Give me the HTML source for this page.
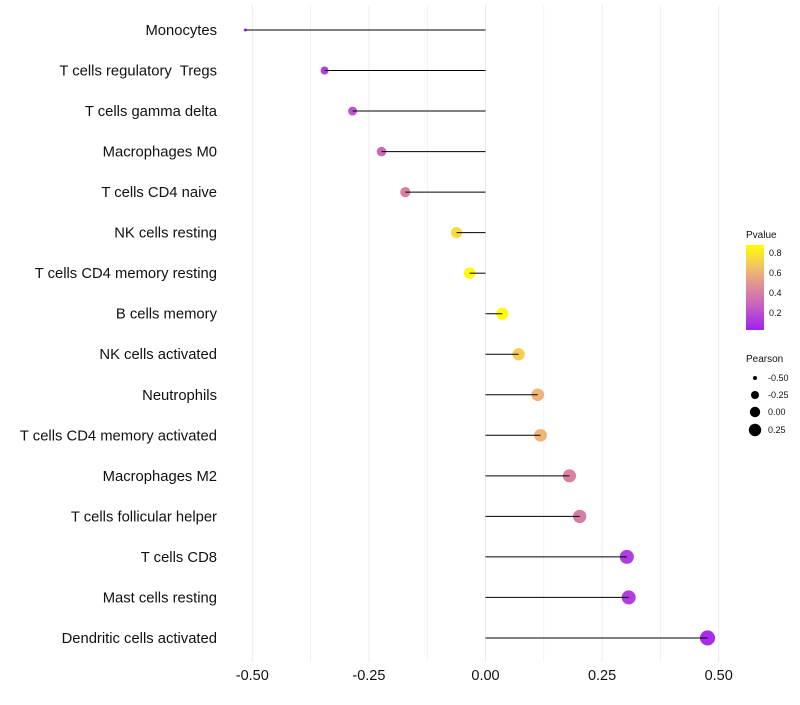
<!DOCTYPE html>
<html><head><meta charset="utf-8"><style>
body{margin:0;background:#fff;font-family:"Liberation Sans",sans-serif}
</style></head><body>
<svg id="chart" width="800" height="700" xmlns="http://www.w3.org/2000/svg"></svg>
<script>
const categories=["Monocytes","T cells regulatory\u00a0 Tregs","T cells gamma delta","Macrophages M0","T cells CD4 naive","NK cells resting","T cells CD4 memory resting","B cells memory","NK cells activated","Neutrophils","T cells CD4 memory activated","Macrophages M2","T cells follicular helper","T cells CD8","Mast cells resting","Dendritic cells activated"];
const pearson=[-0.515,-0.345,-0.285,-0.223,-0.172,-0.062,-0.034,0.036,0.071,0.112,0.118,0.180,0.202,0.303,0.307,0.476];
const pvalue=[0.05,0.12,0.2,0.3,0.4,0.75,0.88,0.88,0.7,0.6,0.6,0.4,0.38,0.12,0.12,0.05];
const xTicks=[-0.5,-0.25,0,0.25,0.5];
const xTickLabels=["-0.50","-0.25","0.00","0.25","0.50"];
const NS="http://www.w3.org/2000/svg";
const svg=document.getElementById('chart');
const x=v=>485.5+v*466.4;
const y=i=>30+i*40.53;
function mk(t,a,p){const e=document.createElementNS(NS,t);for(const k in a)e.setAttribute(k,a[k]);(p||svg).appendChild(e);return e;}
const cstops=[[0,[160,32,240]],[0.2,[190,80,210]],[0.4,[215,130,160]],[0.6,[240,180,120]],[0.9,[255,255,0]]];
function col(p){const t=Math.max(0,Math.min(0.9,p));
 for(let i=0;i<cstops.length-1;i++){const [t0,a]=cstops[i],[t1,b]=cstops[i+1];
  if(t<=t1){const f=(t-t0)/(t1-t0);return `rgb(${a.map((c,k)=>Math.round(c+(b[k]-c)*f)).join(',')})`;}}
 return 'rgb(255,255,0)';}
function rad(v){return 1.5+Math.sqrt(Math.max(0,v+0.515))*6.1;}
// grid
for(let g=-0.5;g<=0.5001;g+=0.125){const l=mk('line',{x1:x(g),x2:x(g),y1:5,y2:662,stroke:'#ebebeb','stroke-width':Math.abs(g*8)%2===0?1:0.6});
}
xTicks.forEach((t,i)=>{const e=mk('text',{x:x(t),y:680,'text-anchor':'middle','font-size':14.5,fill:'#111'});e.textContent=xTickLabels[i];
});
categories.forEach((c,i)=>{const e=mk('text',{x:217,y:y(i)+5,'text-anchor':'end','font-size':14.8,fill:'#111'});e.textContent=c;

const d=mk('circle',{cx:x(pearson[i]),cy:y(i),r:rad(pearson[i]),fill:col(pvalue[i])});

const l=mk('line',{x1:x(0),x2:x(pearson[i]),y1:y(i),y2:y(i),stroke:'#000','stroke-width':1});
});
// legend
const lg=mk('g',{});
mk('defs',{},svg).innerHTML='<linearGradient id="pg" x1="0" y1="1" x2="0" y2="0"><stop offset="0" stop-color="rgb(160,32,240)"/><stop offset="0.3" stop-color="rgb(200,100,190)"/><stop offset="0.55" stop-color="rgb(225,150,145)"/><stop offset="0.75" stop-color="rgb(242,195,100)"/><stop offset="1" stop-color="rgb(255,255,0)"/></linearGradient>';
let t=mk('text',{x:746,y:238,'font-size':10,fill:'#111'},lg);t.textContent='Pvalue';
const cb=mk('rect',{x:746,y:245,width:18,height:85,fill:'url(#pg)'},lg);
[[0.8,253],[0.6,273],[0.4,293],[0.2,313]].forEach(([v,yy])=>{const e=mk('text',{x:769,y:yy+3,'font-size':9,fill:'#111'},lg);e.textContent=v.toFixed(1);});
t=mk('text',{x:746,y:362,'font-size':10,fill:'#111'},lg);t.textContent='Pearson';
[[-0.5,378,2],[-0.25,395,4],[0,412,5.2],[0.25,430,6.2]].forEach(([v,yy,r])=>{mk('circle',{cx:755,cy:yy,r:r,fill:'#000'},lg);
const e=mk('text',{x:768,y:yy+3,'font-size':9,fill:'#111'},lg);e.textContent=v.toFixed(2);});
</script>
</body></html>
